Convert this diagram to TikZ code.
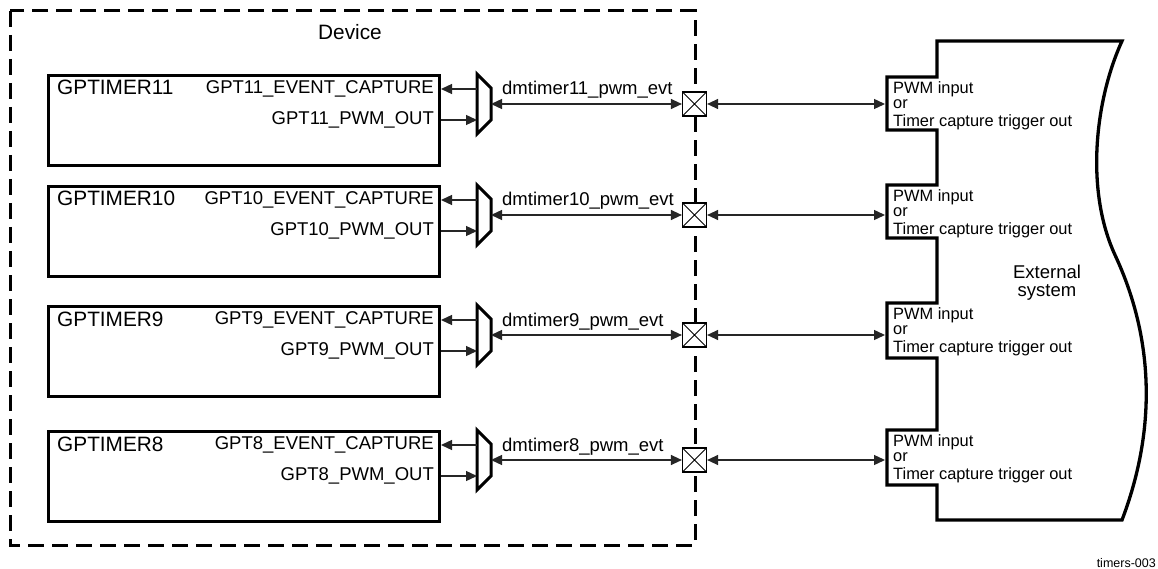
\documentclass[tikz,border=0pt]{standalone}
\usepackage{fontspec}
\setmainfont{Liberation Sans}
\usetikzlibrary{arrows.meta}

\tikzset{
  >={Triangle[length=11pt,width=10pt]},
  sig/.style={line width=1.3pt, draw=black!85},
  timerbox/.style={draw, line width=3pt, minimum width=391pt, minimum height=90pt,
    anchor=north west, inner sep=0pt},
  muxline/.style={line width=3pt, line join=miter},
  padbox/.style={draw, fill=white, line width=1.2pt, minimum size=24pt, inner sep=0pt,
    path picture={\draw[line width=0.8pt]
      (path picture bounding box.north west) -- (path picture bounding box.south east)
      (path picture bounding box.south west) -- (path picture bounding box.north east);}},
  bigtxt/.style={font=\fontsize{18.5}{21}\selectfont, inner sep=0pt},
  titletxt/.style={font=\fontsize{20.8}{23}\selectfont, inner sep=0pt},
  porttxt/.style={font=\fontsize{16.4}{19}\selectfont, inner sep=0pt, align=left,
    anchor=north west},
}

% one timer block with its mux, pad and port on the external side
\newcommand{\timerrow}[3]{
\node[timerbox] (t#1) at (47,{#2-30}) {};
\node[titletxt, anchor=base west] (n#1) at (57,{#2-9}) {GPTIMER#1};
\node[bigtxt, anchor=east] (c#1) at (434,{#2-15}) {GPT#1\_EVENT\_CAPTURE};
\node[bigtxt, anchor=east] (o#1) at (434,{#2+16}) {GPT#1\_PWM\_OUT};
\draw[muxline] (477,{#2-30}) -- (491,{#2-16}) -- (491,{#2+16}) -- (477,{#2+30}) -- cycle;
\coordinate (mc#1) at (477,{#2-15});
\coordinate (mo#1) at (477,{#2+16});
\coordinate (mr#1) at (491,#2);
\node[padbox] (p#1) at (694.5,#2) {};
\coordinate (x#1) at (885,#2);
\draw[sig,->] (mc#1) -- (t#1.east |- mc#1);
\draw[sig,->] (t#1.east |- mo#1) -- (mo#1);
\draw[sig,<->] (mr#1) -- (p#1.west);
\draw[sig,<->] (p#1.east) -- (x#1);
\node[bigtxt, anchor=base west] (d#1) at (502,{#2-9}) {dmtimer#1\_pwm\_evt};
\node[porttxt] (e#1) at (893,{#3+4}) {PWM input\\[-4pt]or\\[-1pt]Timer capture trigger out};
}

\begin{document}
\begin{tikzpicture}[x=1pt, y=-1pt]
\useasboundingbox[fill=white] (0,0) rectangle (1158,569);

% device border
\draw[line width=3pt, dash pattern=on 16pt off 8pt] (10,11) rectangle (695,545);
\node[titletxt] (dev) at (350,32) {Device};

% external system outline
\draw[line width=3.3pt, line join=miter]
  (1122,41) -- (937,41)
  -- (937,77) -- (887,77) -- (887,130) -- (937,130)
  -- (937,185) -- (887,185) -- (887,238) -- (937,238)
  -- (937,303) -- (887,303) -- (887,358) -- (937,358)
  -- (937,430) -- (887,430) -- (887,485) -- (937,485)
  -- (937,520) -- (1122,520)
  .. controls (1160,420) and (1150,330) .. (1115,255)
  .. controls (1085,190) and (1095,100) .. cycle;
\node[bigtxt, align=center, font=\fontsize{18.5}{18}\selectfont] (ext) at (1047,283) {External\\system};

\foreach \n/\c/\k in {11/104/77,10/215/185,9/335/303,8/460/430}
  {\timerrow{\n}{\c}{\k}}

\node[inner sep=0pt, anchor=base east, font=\fontsize{12.5}{14}\selectfont] (tag) at (1156,567) {timers-003};
\end{tikzpicture}
\end{document}
